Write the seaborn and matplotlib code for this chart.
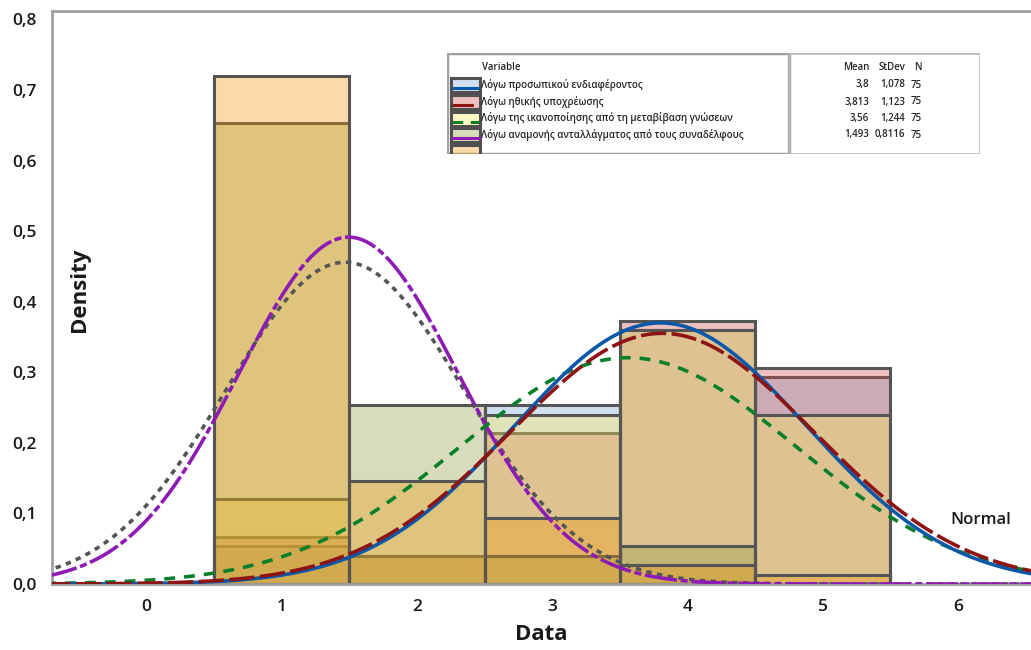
import numpy as np
import pandas as pd
import matplotlib
matplotlib.use("Agg")
import matplotlib.pyplot as plt
from matplotlib.colors import to_rgba
from matplotlib.patches import Rectangle
import seaborn as sns

# Likert scores and counts per variable (N = 75 each)
scores = [1, 2, 3, 4, 5]
counts_interest = [4, 3, 19, 27, 22]
counts_duty = [5, 3, 16, 28, 23]
counts_satisfaction = [9, 3, 18, 27, 18]
counts_reward = [49, 19, 3, 4, 0]
counts_fifth = [54, 11, 7, 2, 1]

variables = [
    "Λόγω προσωπικού ενδιαφέροντος",
    "Λόγω ηθικής υποχρέωσης",
    "Λόγω της ικανοποίησης από τη μεταβίβαση γνώσεων",
    "Λόγω αναμονής ανταλλάγματος από τους συναδέλφους",
    "",
]
means = [3.8, 3.813, 3.56, 1.493, 1.467]
stdevs = [1.078, 1.123, 1.244, 0.8116, 0.875]
n_obs = [75, 75, 75, 75, 75]

all_counts = [counts_interest, counts_duty, counts_satisfaction, counts_reward, counts_fifth]
fill_colors = ["#79a4d4", "#c94b4b", "#ffed50", "#909c40", "#ee9809"]
fill_alpha = 0.35
line_colors = ["#0a58a8", "#8e1414", "#0a7f2a", "#8e1cb4", "#555555"]
line_styles = ["-", (0, (7, 1.5)), (0, (3, 2.5)), (0, (9, 1, 2, 1)), (0, (1.5, 1.5))]
edge = "#555555"

sns.set_style("white")
plt.rcParams["font.family"] = ["Open Sans", "DejaVu Sans"]

fig = plt.figure(figsize=(10.31, 6.5), dpi=100)
ax = fig.add_axes([52 / 1031, 66 / 650, 1 - 52 / 1031, (584 - 11) / 650])

for i, cnt in enumerate(all_counts):
    df = pd.DataFrame({"score": scores, "count": cnt})
    n0 = len(ax.patches)
    sns.histplot(data=df, x="score", weights="count", binwidth=1, binrange=(0.5, 5.5),
                 stat="density", color=fill_colors[i], alpha=fill_alpha, edgecolor=edge,
                 linewidth=2.2, ax=ax)
    for p in ax.patches[n0:]:
        p.set_alpha(None)
        p.set_facecolor(to_rgba(fill_colors[i], fill_alpha))
        p.set_edgecolor(edge)

# fitted normal curves
xs = np.linspace(-0.75, 6.6, 600)
for i in [4, 3, 2, 0, 1]:
    pdf = np.exp(-0.5 * ((xs - means[i]) / stdevs[i]) ** 2) / (stdevs[i] * np.sqrt(2 * np.pi))
    ax.plot(xs, pdf, color=line_colors[i], linestyle=line_styles[i], lw=2.6, zorder=5)

ax.set_xlim(-0.7, 6.54)
ax.set_ylim(0, 0.812)
ax.set_xticks(range(0, 7))
ax.set_yticks(np.arange(0, 0.81, 0.1))
ax.set_yticklabels([f"{v:.1f}".replace(".", ",") for v in np.arange(0, 0.81, 0.1)])
ax.tick_params(axis="both", length=6, width=2, color="#a0a0a0", labelsize=12.5,
               labelcolor="#1a1a1a", pad=5)
for lab in ax.get_xticklabels() + ax.get_yticklabels():
    lab.set_fontweight("semibold")
for s in ["left", "bottom", "top"]:
    ax.spines[s].set_color("#a0a0a0")
    ax.spines[s].set_linewidth(2)
ax.spines["right"].set_visible(False)

ax.set_xlabel("Data", fontsize=16, fontweight="bold", color="#1a1a1a", labelpad=6)
ax.set_ylabel("")
fig.text(80 / 1031, 1 - 290 / 650, "Density", rotation=90, fontsize=16,
         fontweight="bold", color="#1a1a1a", ha="center", va="center")
ax.text(6.17, 0.09, "Normal", fontsize=12, fontweight="semibold", color="#1a1a1a",
        ha="center", va="center")

# legend table (clipped box like the original)
lx0, lx1, ly0, ly1 = 447, 980, 53, 154
lax = fig.add_axes([lx0 / 1031, 1 - ly1 / 650, (lx1 - lx0) / 1031, (ly1 - ly0) / 650])
lax.set_xlim(lx0, lx1)
lax.set_ylim(ly1, ly0)
lax.axis("off")
lax.add_patch(Rectangle((lx0, ly0), 789 - lx0, ly1 - ly0, fill=False, ec="#a0a0a0", lw=2.5))
lax.add_patch(Rectangle((789, ly0), lx1 - 789, ly1 - ly0, fill=False, ec="#b4b4b4", lw=1.8))
fs = 7
lax.text(482, 68, "Variable", fontsize=fs, fontweight="semibold", va="center")
lax.text(869, 68, "Mean", fontsize=fs, fontweight="semibold", va="center", ha="right")
lax.text(905, 68, "StDev", fontsize=fs, fontweight="semibold", va="center", ha="right")
lax.text(918, 68, "N", fontsize=fs, fontweight="semibold", va="center", ha="center")
rows = [85, 102, 118.5, 135, 151.5]
for i in range(5):
    y = rows[i]
    lax.add_patch(Rectangle((451, y - 7), 29, 14, fc=to_rgba(fill_colors[i], fill_alpha),
                            ec="#505050", lw=2.2))
    if i < 4:
        lax.plot([452, 479], [y + 3, y + 3], color=line_colors[i], lw=2.2,
                 linestyle=[(0, (10, 0)), (0, (7, 20)), (0, (3.5, 2.5)), "-"][i])
        lax.text(481, y, variables[i], fontsize=fs, fontweight="semibold", va="center")
        lax.text(869, y, str(means[i]).replace(".", ","), fontsize=fs,
                 fontweight="semibold", va="center", ha="right")
        lax.text(905, y, str(stdevs[i]).replace(".", ","), fontsize=fs,
                 fontweight="semibold", va="center", ha="right")
        lax.text(911, y, str(n_obs[i]), fontsize=fs, fontweight="semibold", va="center")

fig.savefig("out.png", dpi=100, facecolor="white")
